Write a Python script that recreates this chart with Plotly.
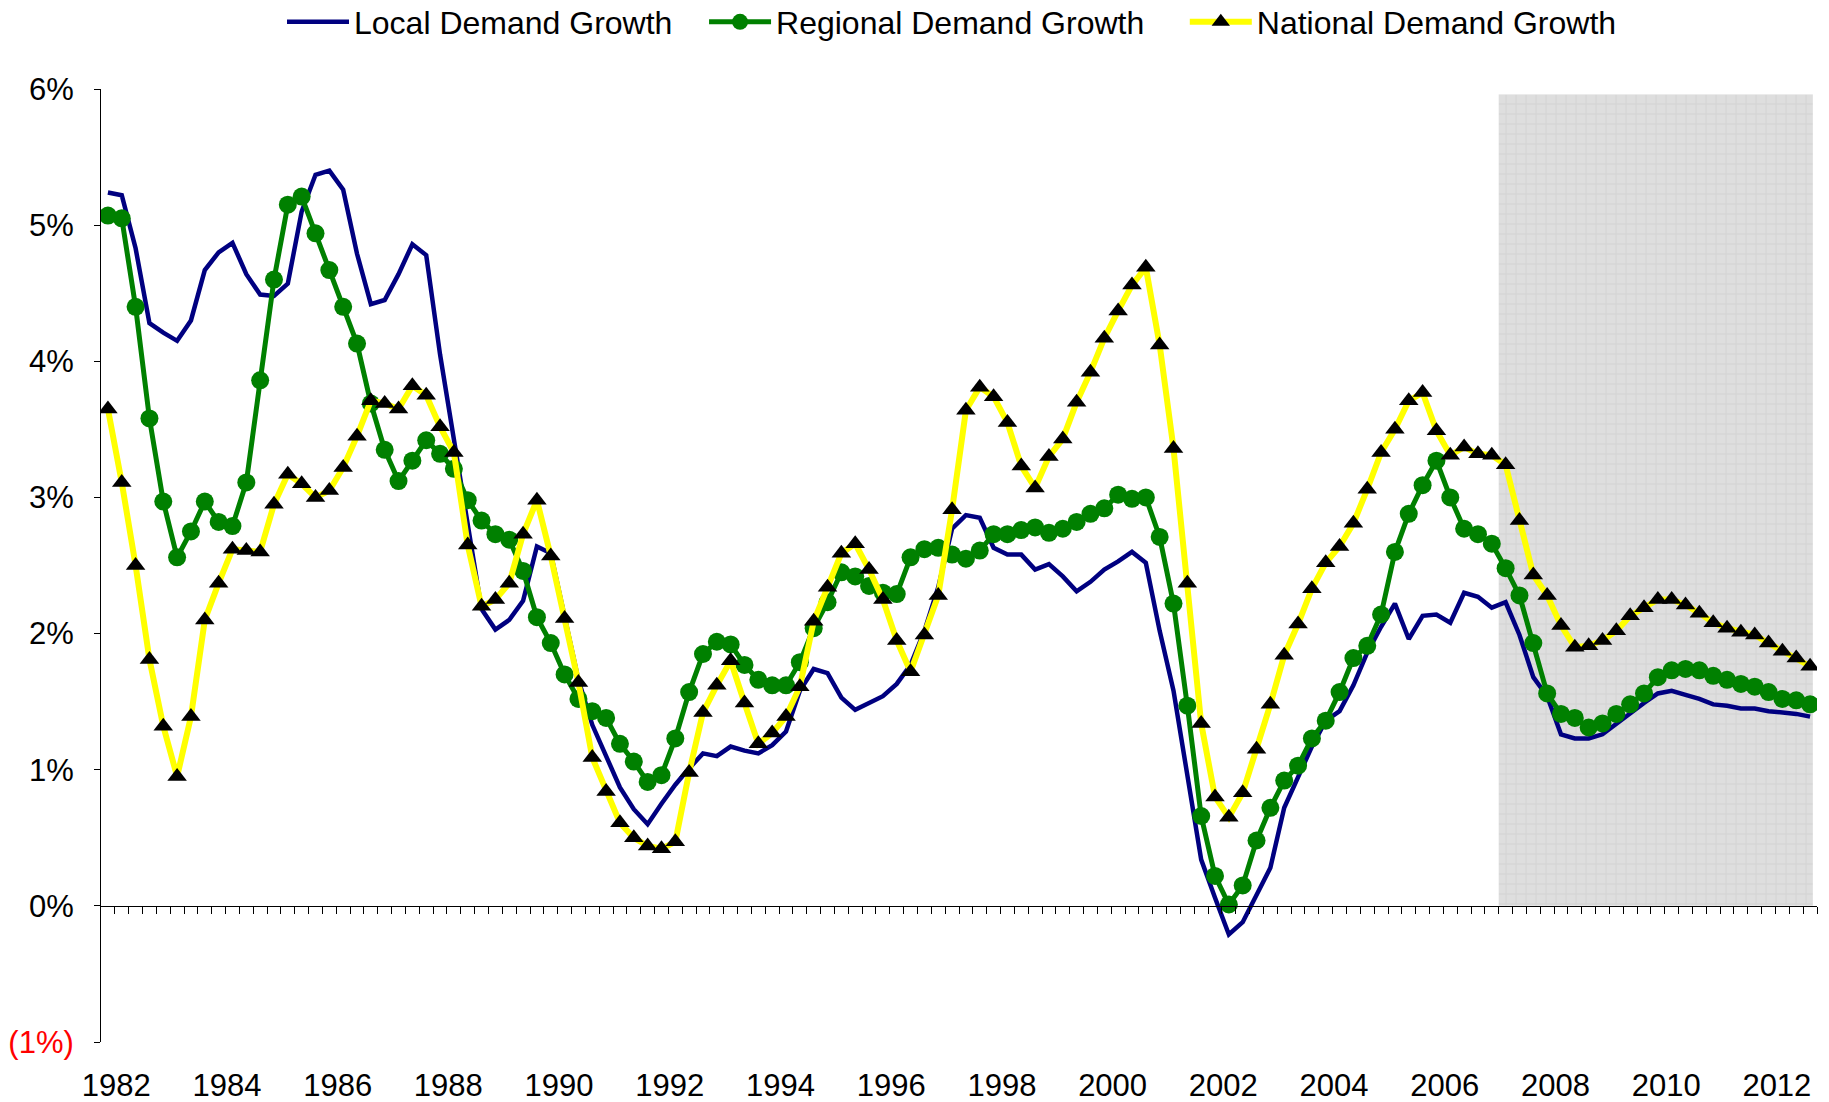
import plotly.graph_objects as go

# ---------------- data ----------------
years = list(range(1982, 2013))
quarter_pos = [y + q / 4 for y in years for q in range(4)]  # 1982Q1 .. 2012Q4 as decimal years

local_growth = [
    5.24, 5.22, 4.83, 4.28, 4.21, 4.15, 4.30, 4.67, 4.80, 4.87,
    4.64, 4.49, 4.48, 4.57, 5.10, 5.37, 5.40, 5.26, 4.79, 4.42,
    4.45, 4.64, 4.86, 4.78, 4.05, 3.43, 2.85, 2.18, 2.03, 2.10,
    2.24, 2.64, 2.59, 2.14, 1.66, 1.33, 1.09, 0.87, 0.71, 0.60,
    0.75, 0.89, 1.01, 1.12, 1.10, 1.17, 1.14, 1.12, 1.18, 1.28,
    1.58, 1.74, 1.71, 1.53, 1.44, 1.49, 1.54, 1.63, 1.77, 2.02,
    2.34, 2.77, 2.87, 2.85, 2.63, 2.58, 2.58, 2.47, 2.51, 2.42,
    2.31, 2.38, 2.47, 2.53, 2.60, 2.52, 2.02, 1.58, 0.98, 0.34,
    0.06, -0.21, -0.12, 0.08, 0.28, 0.72, 0.95, 1.17, 1.36, 1.43,
    1.62, 1.86, 2.05, 2.22, 1.96, 2.13, 2.14, 2.08, 2.30, 2.27,
    2.19, 2.23, 1.99, 1.68, 1.54, 1.26, 1.23, 1.23, 1.26, 1.34,
    1.42, 1.49, 1.56, 1.58, 1.55, 1.52, 1.48, 1.47, 1.45, 1.45,
    1.43, 1.42, 1.41, 1.39,
]

regional_growth = [
    5.07, 5.05, 4.40, 3.58, 2.97, 2.56, 2.75, 2.97, 2.82, 2.79,
    3.11, 3.86, 4.60, 5.15, 5.21, 4.94, 4.67, 4.40, 4.13, 3.69,
    3.35, 3.12, 3.27, 3.42, 3.32, 3.21, 2.98, 2.83, 2.73, 2.69,
    2.46, 2.12, 1.93, 1.70, 1.52, 1.43, 1.38, 1.19, 1.06, 0.91,
    0.96, 1.23, 1.57, 1.85, 1.94, 1.92, 1.77, 1.66, 1.62, 1.62,
    1.79, 2.04, 2.23, 2.45, 2.42, 2.35, 2.30, 2.29, 2.56, 2.62,
    2.63, 2.58, 2.55, 2.61, 2.73, 2.73, 2.76, 2.78, 2.74, 2.77,
    2.82, 2.88, 2.92, 3.02, 2.99, 3.00, 2.71, 2.22, 1.47, 0.66,
    0.22, 0.01, 0.15, 0.48, 0.72, 0.92, 1.03, 1.23, 1.36, 1.57,
    1.82, 1.91, 2.14, 2.60, 2.88, 3.09, 3.27, 3.00, 2.77, 2.73,
    2.66, 2.48, 2.28, 1.93, 1.56, 1.41, 1.38, 1.31, 1.34, 1.41,
    1.48, 1.56, 1.68, 1.73, 1.74, 1.73, 1.69, 1.66, 1.63, 1.61,
    1.57, 1.52, 1.51, 1.48,
]

national_growth = [
    3.65, 3.11, 2.50, 1.81, 1.32, 0.95, 1.39, 2.10, 2.37, 2.62,
    2.61, 2.60, 2.95, 3.17, 3.10, 3.00, 3.05, 3.22, 3.45, 3.71,
    3.69, 3.65, 3.82, 3.75, 3.52, 3.33, 2.65, 2.20, 2.25, 2.37,
    2.73, 2.98, 2.57, 2.11, 1.64, 1.09, 0.84, 0.61, 0.50, 0.44,
    0.42, 0.47, 0.98, 1.42, 1.62, 1.80, 1.49, 1.19, 1.27, 1.39,
    1.61, 2.09, 2.34, 2.59, 2.66, 2.47, 2.25, 1.95, 1.72, 1.99,
    2.28, 2.91, 3.64, 3.81, 3.74, 3.55, 3.23, 3.07, 3.30, 3.43,
    3.70, 3.92, 4.17, 4.37, 4.56, 4.69, 4.12, 3.36, 2.37, 1.34,
    0.80, 0.65, 0.83, 1.15, 1.48, 1.84, 2.07, 2.33, 2.52, 2.64,
    2.81, 3.06, 3.33, 3.50, 3.71, 3.77, 3.49, 3.31, 3.37, 3.32,
    3.31, 3.24, 2.83, 2.43, 2.28, 2.06, 1.90, 1.91, 1.95, 2.02,
    2.13, 2.19, 2.25, 2.25, 2.21, 2.15, 2.08, 2.04, 2.01, 1.99,
    1.93, 1.87, 1.82, 1.76,
]

series_names = ["Local Demand Growth", "Regional Demand Growth", "National Demand Growth"]
year_labels = [str(y) for y in range(1982, 2013, 2)]
y_tick_values = [-1, 0, 1, 2, 3, 4, 5, 6]
y_tick_labels = ["<span style='color:#FF0000'>(1%)</span>", "0%", "1%", "2%", "3%", "4%", "5%", "6%"]

forecast_start = 2007.125   # shaded forecast period begins after 2007Q1
forecast_end = 2012.8
forecast_top = 5.96

FONT = "Liberation Sans, Arial, sans-serif"
q = 0.25
x_min = quarter_pos[0] - q / 2
x_max = quarter_pos[-1] + q / 2
NB = "\u00a0"

fig = go.Figure()

# forecast shading (patterned grid)
fig.add_trace(go.Scatter(
    x=[forecast_start, forecast_end, forecast_end, forecast_start, forecast_start],
    y=[0, 0, forecast_top, forecast_top, 0],
    mode="lines", fill="toself", line=dict(width=0),
    fillcolor="#DEDEDE",
    fillpattern=dict(shape="+", size=10, solidity=0.2, fgcolor="#C8C8C8", bgcolor="#DEDEDE"),
    showlegend=False, hoverinfo="skip",
))

fig.add_trace(go.Scatter(
    x=quarter_pos, y=local_growth, mode="lines", name=series_names[0] + NB * 3,
    line=dict(color="#000080", width=4.5),
))
fig.add_trace(go.Scatter(
    x=quarter_pos, y=regional_growth, mode="lines+markers", name=series_names[1] + NB * 4,
    line=dict(color="#008000", width=5),
    marker=dict(symbol="circle", size=18, color="#008000"),
))
fig.add_trace(go.Scatter(
    x=quarter_pos, y=national_growth, mode="lines+markers", name=series_names[2],
    line=dict(color="#FFFF00", width=6),
    marker=dict(symbol="triangle-up", size=17, color="#000000", line=dict(width=0)),
))

# invisible trace on the zero-line axis so it gets drawn
fig.add_trace(go.Scatter(x=[x_min, x_max], y=[0, 0], xaxis="x2", mode="lines",
                         line=dict(width=0), showlegend=False, hoverinfo="skip"))

label_pos = [y + 0.15 for y in range(1982, 2013, 2)]
boundary_ticks = [p + q / 2 for p in quarter_pos]

fig.update_layout(
    width=1829, height=1102,
    margin=dict(l=101, r=12, t=89, b=60, autoexpand=False),
    paper_bgcolor="white", plot_bgcolor="white",
    font=dict(family=FONT, size=31, color="#000000"),
    showlegend=True,
    legend=dict(
        orientation="h", x=(282 - 101) / 1716, xanchor="left",
        y=1 + (89 - 22) / 953, yanchor="middle",
        font=dict(size=32, family=FONT), itemwidth=62, bgcolor="rgba(0,0,0,0)",
    ),
    xaxis=dict(
        range=[x_min, x_max], showline=False, showgrid=False, zeroline=False,
        tickmode="array", tickvals=label_pos, ticktext=year_labels,
        ticks="", ticklabelstandoff=22, tickfont=dict(size=31, family=FONT),
    ),
    xaxis2=dict(
        range=[x_min, x_max], overlaying="x", anchor="free", position=1 / 7,
        showline=True, linecolor="#000000", linewidth=1,
        tickmode="array", tickvals=boundary_ticks, ticks="outside", ticklen=7,
        tickcolor="#000000", tickwidth=1, showticklabels=False,
        showgrid=False, zeroline=False,
    ),
    yaxis=dict(
        range=[-1, 6], showline=True, linecolor="#000000", linewidth=1,
        showgrid=False, zeroline=False,
        tickmode="array", tickvals=y_tick_values, ticktext=y_tick_labels,
        ticks="outside", ticklen=6, tickcolor="#000000",
        ticklabelstandoff=14, tickfont=dict(size=31, family=FONT),
    ),
)

fig.write_html(
    "out.html",
    config={"displayModeBar": False},
    post_script="document.body.style.margin='0';document.body.style.overflow='hidden';",
)
